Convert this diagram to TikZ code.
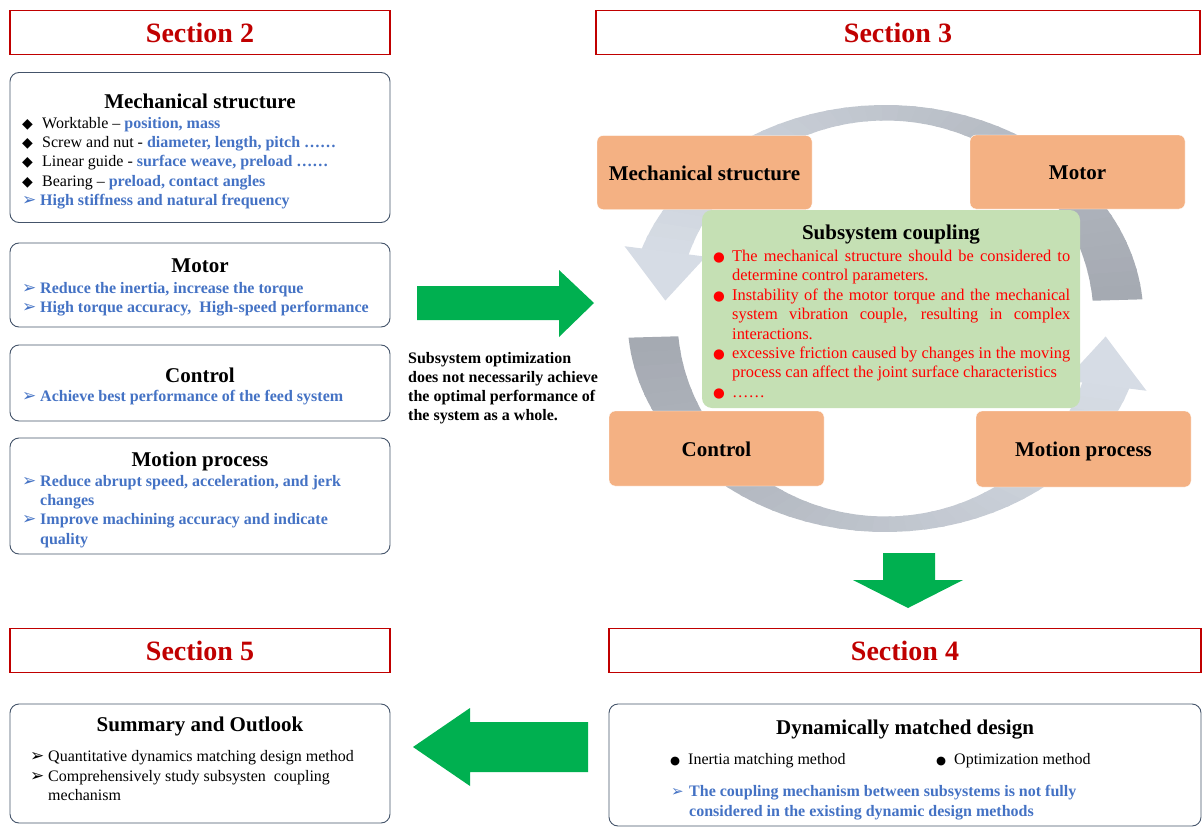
\documentclass[tikz,border=0pt]{standalone}
\usepackage{fontspec}
\setmainfont{Liberation Serif}
\newfontfamily\symfont{DejaVu Sans}
\usetikzlibrary{calc}

\definecolor{secred}{RGB}{192,0,0}
\definecolor{boxline}{RGB}{68,84,106}
\definecolor{txtblue}{RGB}{68,114,196}
\definecolor{orng}{RGB}{244,177,131}
\definecolor{lgreen}{RGB}{197,224,180}
\definecolor{arrgreen}{RGB}{0,176,80}
\definecolor{ringdark}{RGB}{165,170,178}
\definecolor{ringlight}{RGB}{214,220,229}

\newcommand{\bl}[1]{\textcolor{txtblue}{\textbf{#1}}}
\newcommand{\dmd}{\makebox[20pt][l]{\symfont\fontsize{14}{14}\selectfont ◆}}
\newcommand{\ptr}{\makebox[18pt][l]{\symfont\fontsize{17}{17}\selectfont ➢}}
\newcommand{\blk}{\makebox[18pt][l]{\symfont\fontsize{11.5}{11.5}\selectfont ●}}
\newcommand{\rdot}{\noindent\llap{\makebox[19pt][l]{\symfont\fontsize{13.5}{13.5}\selectfont ●}}}

\begin{document}
\begin{tikzpicture}[x=1pt,y=-1pt,
    secbox/.style={draw=secred,line width=1.8pt,text=secred,minimum height=44,
      font=\fontsize{28}{30}\selectfont\bfseries},
    infobox/.style={draw=boxline,line width=0.9pt,rounded corners=9pt},
    subbox/.style={fill=orng,draw=white,rounded corners=6pt,minimum width=215,
      text height=16,text depth=1,font=\fontsize{21}{24}\selectfont\bfseries},
    heading/.style={anchor=base,inner sep=0pt,font=\fontsize{21}{24}\selectfont\bfseries},
    body/.style={anchor=north west,inner sep=0pt,align=left,font=\fontsize{16}{19.3}\selectfont},
    blockarrow/.style={fill=arrgreen}]
\useasboundingbox (0,0) rectangle (1203,827);

% section titles
\node[secbox,minimum width=380] (sec2) at (200,32.5) {Section 2};
\node[secbox,minimum width=604] (sec3) at (898,32.5) {Section 3};
\node[secbox,minimum width=380] (sec5) at (200,650.5) {Section 5};
\node[secbox,minimum width=592] (sec4) at (905,650.5) {Section 4};

% section 2 boxes
\node[infobox,minimum width=380,minimum height=150] (mech) at (200,147.5) {};
\node[heading] (mechT) at (200,108) {Mechanical structure};
\node[body] (mechB) at (22,117) {\dmd Worktable – \bl{position, mass}\\
  \dmd Screw and nut - \bl{diameter, length, pitch ……}\\
  \dmd Linear guide - \bl{surface weave, preload ……}\\
  \dmd Bearing – \bl{preload, contact angles}\\
  {\color{txtblue}\ptr\textbf{High stiffness and natural frequency}}};

\node[infobox,minimum width=380,minimum height=84] (motor) at (200,285) {};
\node[heading] (motorT) at (200,272) {Motor};
\node[body,text=txtblue,font=\fontsize{16}{19.3}\selectfont\bfseries] (motorB) at (22,282)
  {\ptr Reduce the inertia, increase the torque\\
   \ptr High torque accuracy,\ \ High-speed performance};

\node[infobox,minimum width=380,minimum height=76] (ctrl) at (200,383) {};
\node[heading] (ctrlT) at (200,382) {Control};
\node[body,text=txtblue,font=\fontsize{16}{19.3}\selectfont\bfseries] (ctrlB) at (22,390)
  {\ptr Achieve best performance of the feed system};

\node[infobox,minimum width=380,minimum height=116] (motion) at (200,496) {};
\node[heading] (motionT) at (200,466) {Motion process};
\node[body,text=txtblue,font=\fontsize{16}{19.3}\selectfont\bfseries] (motionB) at (22,475)
  {\ptr Reduce abrupt speed, acceleration, and jerk\\
   \hspace*{18pt}changes\\
   \ptr Improve machining accuracy and indicate\\
   \hspace*{18pt}quality};

% green arrows
\fill[blockarrow] (417,286) -- (559,286) -- (559,270) -- (594,303) -- (559,337)
  -- (559,320) -- (417,320) -- cycle;
\fill[blockarrow] (883,553) -- (935,553) -- (935,580) -- (963,580) -- (908,608)
  -- (853,580) -- (883,580) -- cycle;
\fill[blockarrow] (588,722) -- (470,722) -- (470,708) -- (413,747) -- (470,786)
  -- (470,772) -- (588,772) -- cycle;

\node[body,font=\fontsize{16}{19}\selectfont\bfseries] (note) at (408,352)
  {Subsystem optimization\\ does not necessarily achieve\\
   the optimal performance of\\ the system as a whole.};

% section 3 cycle
\def\rcx{885.5}\def\rcy{318.5}
\foreach \i in {0,...,39}{
  \pgfmathsetmacro{\aa}{354.85-\i*3.896}
  \pgfmathsetmacro{\ab}{354.85-(\i+1.2)*3.896}
  \pgfmathsetmacro{\mix}{100-2.5*\i}
  \fill[ringdark!\mix!ringlight] plot[domain=\aa:\ab,samples=3]
    ({\rcx+258*cos(\x)},{\rcy+213.5*sin(\x)})
    -- plot[domain=\ab:\aa,samples=3] ({\rcx+208*cos(\x)},{\rcy+198*sin(\x)}) -- cycle;
  \pgfmathsetmacro{\ba}{174.85-\i*3.896}
  \pgfmathsetmacro{\bb}{174.85-(\i+1.2)*3.896}
  \fill[ringdark!\mix!ringlight] plot[domain=\ba:\bb,samples=3]
    ({\rcx+258*cos(\x)},{\rcy+213.5*sin(\x)})
    -- plot[domain=\bb:\ba,samples=3] ({\rcx+208*cos(\x)},{\rcy+198*sin(\x)}) -- cycle;
}
\fill[ringlight] ({\rcx+276*cos(199)},{\rcy+222*sin(199)})
  -- ({\rcx+221*cos(185)},{\rcy+206*sin(185)})
  -- ({\rcx+190*cos(199)},{\rcy+190*sin(199)}) -- cycle;
\fill[ringlight] ({\rcx+276*cos(19)},{\rcy+222*sin(19)})
  -- ({\rcx+221*cos(5)},{\rcy+206*sin(5)})
  -- ({\rcx+190*cos(19)},{\rcy+190*sin(19)}) -- cycle;

\node[subbox,minimum height=74] (msub) at (704.5,172.5) {Mechanical structure};
\node[subbox,minimum height=74] (motsub) at (1077.5,172) {Motor};
\node[subbox,minimum height=75] (ctlsub) at (716.5,448.5) {Control};
\node[subbox,minimum height=76] (movsub) at (1083.5,449) {Motion process};

\node[fill=lgreen,rounded corners=10pt,minimum width=378,minimum height=198] (cpl) at (891,309) {};
\node[heading] (cplT) at (891,239) {Subsystem coupling};
\node[anchor=north west,inner sep=0pt,text width=357,align=justify,text=red,
  font=\fontsize{16.4}{19.4}\selectfont] (cplB) at (713,250)
  {\leftskip=19pt\hyphenpenalty=10000\exhyphenpenalty=10000
   \rdot The mechanical structure should be considered to determine control parameters.\par
   \rdot Instability of the motor torque and the mechanical system vibration couple, resulting in complex interactions.\par
   \rdot excessive friction caused by changes in the moving process can affect the joint surface characteristics\par
   \rdot ……\par};

% section 4
\node[infobox,minimum width=592,minimum height=122] (dyn) at (905,765) {};
\node[heading] (dynT) at (905,734) {Dynamically matched design};
\node[anchor=west,inner sep=0pt,font=\fontsize{16}{19}\selectfont] (inm) at (670,761)
  {\blk Inertia matching method};
\node[anchor=west,inner sep=0pt,font=\fontsize{16}{19}\selectfont] (opm) at (936,761)
  {\blk Optimization method};
\node[body,text=txtblue,font=\fontsize{16}{19.8}\selectfont\bfseries] (dynB) at (671,785)
  {\makebox[18pt][l]{\symfont\fontsize{15}{15}\selectfont ➢}The coupling mechanism between subsystems is not fully\\
   \hspace*{18pt}considered in the existing dynamic design methods};

% section 5
\node[infobox,minimum width=380,minimum height=119] (summ) at (200,763.5) {};
\node[heading] (summT) at (200,731) {Summary and Outlook};
\node[body,font=\fontsize{16}{19.7}\selectfont] (summB) at (30,750)
  {\ptr Quantitative dynamics matching design method\\
   \ptr Comprehensively study subsysten\ \ coupling\\
   \hspace*{18pt}mechanism};
\end{tikzpicture}
\end{document}
